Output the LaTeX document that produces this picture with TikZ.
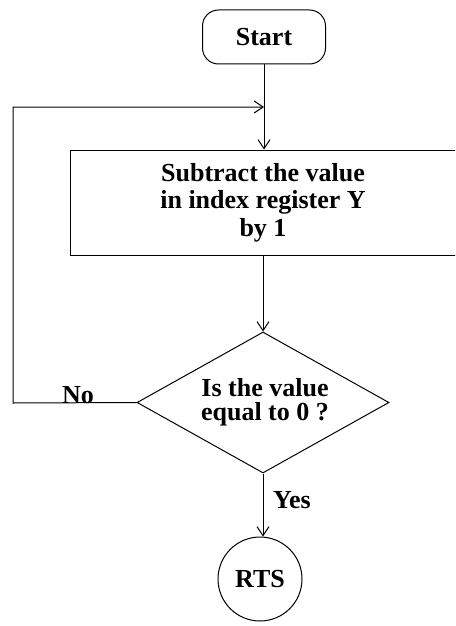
\documentclass[tikz,border=0pt]{standalone}
\usepackage{fontspec}
\setmainfont{Liberation Serif}
\usetikzlibrary{arrows.meta,shapes.geometric}
\begin{document}
\begin{tikzpicture}[x=1pt,y=-1pt,
  line width=1pt,
  every node/.style={font=\fontsize{26}{27.5}\selectfont\bfseries, inner sep=0pt},
  flowline/.style={draw=black},
  arrowline/.style={draw=black,-{Straight Barb[length=9pt,width=12pt,line width=1pt]}},
  terminal/.style={draw, rounded corners=16pt, minimum width=123pt, minimum height=54pt},
  process/.style={draw, minimum width=386pt, minimum height=105pt, align=center},
  decision/.style={draw, diamond, aspect=1.787, minimum width=252pt, minimum height=141pt},
  endpoint/.style={draw, circle, minimum size=84pt},
  label/.style={align=center, font=\fontsize{26}{23.5}\selectfont\bfseries}
]
\clip (0,0) rectangle (455,626);
\fill[white] (0,0) rectangle (455,626);

\node[terminal] (start) at (264,37) {Start};
\node[process] (sub) at (263,202.5) {Subtract the value\\in index register Y\\by 1};
\node[decision] (test) at (263,402.5) {};
\node[label] (question) at (265,402) {Is the value\\equal to 0 ?};
\node[endpoint] (rts) at (260,579) {RTS};

\coordinate (join) at (264,107);
\coordinate (cornerA) at (13,403);
\coordinate (cornerB) at (13,107);

\draw[flowline] (start.south) -- (join);
\draw[arrowline] (join) -- (sub.north -| join);
\draw[arrowline] (sub.south) -- (test.north);
\draw[arrowline] (test.south) -- (test.south |- rts.north);
\draw[arrowline] (test.west) -- (cornerA) -- (cornerB) -- (join);

\node (no) at (78,395) {No};
\node (yes) at (292,500) {Yes};
\end{tikzpicture}
\end{document}
